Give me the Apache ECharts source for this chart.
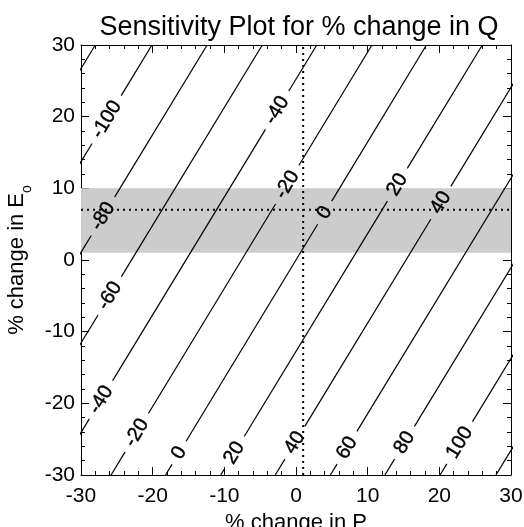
<!DOCTYPE html>
<html>
<head>
<meta charset="utf-8">
<script src="https://cdn.jsdelivr.net/npm/echarts@6/dist/echarts.min.js"></script>
<style>
  html, body { margin: 0; padding: 0; background: #fff; }
  #main { width: 524px; height: 527px; }
</style>
</head>
<body>
<div id="main"></div>
<script>
// contour levels (% change in Q) and where each line meets E = -30 and E = +30
var levels    = [-120, -100, -80, -60, -40, -20, 0, 20, 40, 60, 80, 100, 120];
var pAtBottom = [-64.5, -56.6, -48.9, -41.2, -33.6, -25.8, -18.2, -10.5, -2.9, 4.8, 12.4, 20.1, 27.9];
var pAtTop    = [-28.0, -20.1, -12.4, -4.7, 2.9, 10.6, 18.2, 26.0, 33.6, 41.3, 48.9, 56.6, 64.4];

// contour labels: which level, and the E value where the label sits on it
var labelLevels = [-100, -80, -60, -40, -40, -20, -20, 0, 0, 20, 20, 40, 40, 60, 80, 100];
var labelE      = [19.6, 6.1, -5.0, 20.9, -19.5, 10.5, -24.1, 6.6, -26.9, 10.5, -26.9, 8.0, -25.5, -26.2, -25.5, -25.5];

// shaded band on E and the reference point (dotted lines)
var bandE = [1, 10];
var refP = 1;
var refE = 7;

var axisTicks = [-30, -20, -10, 0, 10, 20, 30];

var FONT = '"Liberation Sans", Arial, Helvetica, sans-serif';
var eMin = axisTicks[0], eMax = axisTicks[axisTicks.length - 1];
var gridW = 430;
var pxPerUnit = gridW / (eMax - eMin);
var labelSize = 20;

var ctx = document.createElement('canvas').getContext('2d');
ctx.font = labelSize + 'px ' + FONT;

function pOnLine(i, e) {
    return pAtBottom[i] + (e - eMin) / (eMax - eMin) * (pAtTop[i] - pAtBottom[i]);
}

function angleOf(i) {
    return Math.atan2(eMax - eMin, pAtTop[i] - pAtBottom[i]);
}

var series = [];

// grey band
series.push({
    type: 'line',
    data: [],
    silent: true,
    z: 1,
    markArea: {
        silent: true,
        itemStyle: { color: '#cccccc', borderWidth: 0 },
        data: [[{ xAxis: eMin, yAxis: bandE[0] }, { xAxis: eMax, yAxis: bandE[1] }]]
    }
});

// contour lines, broken where a label sits
levels.forEach(function(lv, i) {
    var th = angleOf(i);
    var gaps = [];
    labelLevels.forEach(function(l, k) {
        if (l !== lv) return;
        var w = ctx.measureText(String(l)).width;
        var half = (w / 2 + 8) / pxPerUnit * Math.sin(th);
        gaps.push([labelE[k] - half, labelE[k] + half]);
    });
    gaps.sort(function(a, b) { return a[0] - b[0]; });
    var start = eMin;
    var pieces = [];
    gaps.forEach(function(g) {
        pieces.push([start, g[0]]);
        start = g[1];
    });
    pieces.push([start, eMax]);
    pieces.forEach(function(pc) {
        series.push({
            type: 'line',
            data: [[pOnLine(i, pc[0]), pc[0]], [pOnLine(i, pc[1]), pc[1]]],
            symbol: 'none',
            silent: true,
            z: 3,
            lineStyle: { color: '#000', width: 1.2 }
        });
    });
});

// dotted reference lines
series.push({
    type: 'line',
    data: [[refP, eMin], [refP, eMax]],
    symbol: 'none',
    silent: true,
    z: 2,
    lineStyle: { color: '#000', width: 2, type: [2, 4] }
});
series.push({
    type: 'line',
    data: [[eMin, refE], [eMax, refE]],
    symbol: 'none',
    silent: true,
    z: 2,
    lineStyle: { color: '#000', width: 2, type: [2, 4] }
});

// contour labels, drawn as rotated text at points on the lines
series.push({
    type: 'custom',
    silent: true,
    z: 4,
    data: labelLevels.map(function(l, k) {
        var i = levels.indexOf(l);
        return [pOnLine(i, labelE[k]), labelE[k], l, angleOf(i)];
    }),
    renderItem: function(params, api) {
        var pt = api.coord([api.value(0), api.value(1)]);
        return {
            type: 'text',
            x: pt[0],
            y: pt[1],
            rotation: api.value(3),
            style: {
                text: String(api.value(2)),
                x: 0,
                y: 0,
                align: 'center',
                verticalAlign: 'middle',
                fontSize: labelSize,
                fontFamily: FONT,
                fill: '#000',
                stroke: '#000',
                lineWidth: 0.4
            }
        };
    }
});

function makeAxis(pos, showLabels, extra) {
    var ax = {
        type: 'value',
        position: pos,
        min: eMin,
        max: eMax,
        interval: 10,
        axisLine: { show: true, onZero: false, lineStyle: { color: '#000', width: 1 } },
        axisTick: { show: true, inside: true, length: 8, lineStyle: { color: '#000', width: 1 } },
        minorTick: { show: true, splitNumber: 5, length: 4, lineStyle: { color: '#000', width: 1 } },
        splitLine: { show: false },
        axisLabel: { show: showLabels, fontSize: 20, fontFamily: FONT, color: '#000' }
    };
    for (var k in extra) ax[k] = extra[k];
    return ax;
}

var option = {
    animation: false,
    backgroundColor: '#fff',
    title: {
        text: 'Sensitivity Plot for % change in Q',
        left: 294,
        top: 9,
        textAlign: 'center',
        textStyle: { fontSize: 27, fontWeight: 'normal', fontFamily: FONT, color: '#000' }
    },
    grid: { left: 81, top: 45, width: gridW, height: 430, outerBoundsMode: 'none', containLabel: false },
    xAxis: [
        makeAxis('bottom', true, {
            name: '% change in P',
            nameLocation: 'middle',
            nameGap: 24,
            nameTextStyle: { fontSize: 22, fontFamily: FONT, color: '#000' },
            axisLabel: { show: true, fontSize: 21, fontFamily: FONT, color: '#000', margin: 11 }
        }),
        makeAxis('top', false, {})
    ],
    yAxis: [
        makeAxis('left', true, {
            name: '{m|% change in E}{s|o}',
            nameLocation: 'middle',
            nameRotate: 90,
            nameGap: 38,
            nameTextStyle: {
                fontSize: 22, fontFamily: FONT, color: '#000',
                rich: {
                    m: { fontSize: 22, fontFamily: FONT, color: '#000', lineHeight: 34, verticalAlign: 'middle' },
                    s: { fontSize: 14, fontFamily: FONT, color: '#000', lineHeight: 34, verticalAlign: 'bottom' }
                }
            },
            axisLabel: { show: true, fontSize: 21, fontFamily: FONT, color: '#000', margin: 6 }
        }),
        makeAxis('right', false, {})
    ],
    series: series
};

var chart = echarts.init(document.getElementById('main'));
chart.setOption(option);
</script>
</body>
</html>
